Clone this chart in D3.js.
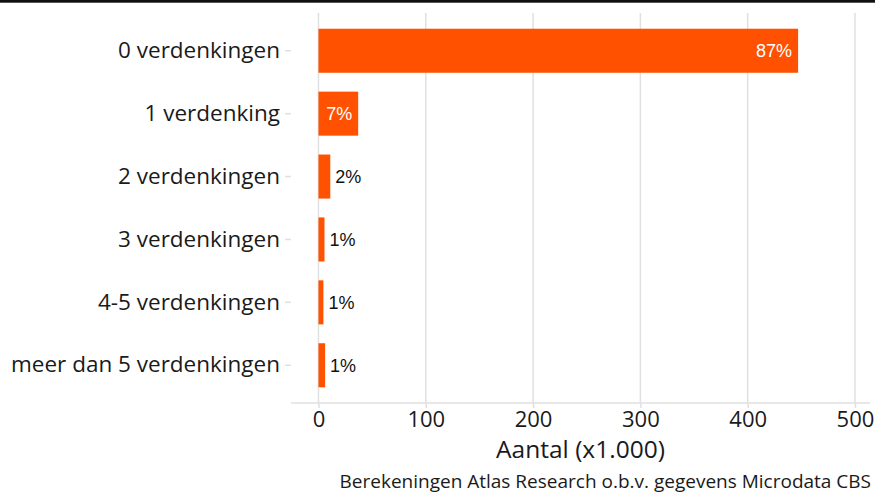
<!DOCTYPE html>
<html>
<head>
<meta charset="utf-8">
<script src="https://cdn.jsdelivr.net/npm/d3@7"></script>
<style>
  html, body { margin: 0; padding: 0; background: #fff; }
  svg { display: block; }
  .lbl { font-family: "Open Sans", sans-serif; fill: #1a1a1a; }
  .val { font-family: "Liberation Sans", Arial, sans-serif; }
</style>
</head>
<body>
<svg id="chart"></svg>
<script>
// data (aantal x1.000)
const categories = ['0 verdenkingen', '1 verdenking', '2 verdenkingen', '3 verdenkingen', '4-5 verdenkingen', 'meer dan 5 verdenkingen'];
const counts = [447, 37, 11, 5.6, 4.6, 6.2];
const percents = ['87%', '7%', '2%', '1%', '1%', '1%'];
const xTicks = [0, 100, 200, 300, 400, 500];

const width = 875, height = 494;
const panel = { left: 291, right: 870, top: 13, bottom: 403 };
const barColor = '#ff5100';
const gridColor = '#e0e0e0';

const svg = d3.select('#chart').attr('width', width).attr('height', height);

const x = d3.scaleLinear().domain([-25.6, 514]).range([panel.left, panel.right]);
const y = d3.scaleBand().domain(categories).range([panel.top, panel.bottom])
    .paddingInner(0.3).paddingOuter(0.25);

// top rule
svg.append('rect').attr('x', 0).attr('y', 0).attr('width', width).attr('height', 2.7).attr('fill', '#111');

// grid
svg.append('g').selectAll('line').data(xTicks).enter().append('line')
    .attr('x1', d => x(d)).attr('x2', d => x(d))
    .attr('y1', panel.top).attr('y2', panel.bottom)
    .attr('stroke', gridColor).attr('stroke-width', 1.5);

// bars
const data = categories.map((c, i) => ({ cat: c, n: counts[i], pct: percents[i] }));
svg.append('g').selectAll('rect').data(data).enter().append('rect')
    .attr('x', x(0)).attr('y', d => y(d.cat))
    .attr('width', d => x(d.n) - x(0)).attr('height', y.bandwidth())
    .attr('fill', barColor);

// value labels: inside when bar is wide enough
svg.append('g').selectAll('text').data(data).enter().append('text')
    .attr('class', 'val')
    .attr('x', d => d.n > 20 ? x(d.n) - 6 : x(d.n) + 5)
    .attr('y', d => y(d.cat) + y.bandwidth() / 2)
    .attr('dy', '0.36em')
    .attr('text-anchor', d => d.n > 20 ? 'end' : 'start')
    .attr('fill', d => d.n > 20 ? '#fff' : '#111')
    .style('font-size', '18px')
    .text(d => d.pct);

// x axis
const xAxis = svg.append('g').attr('transform', 'translate(0,' + panel.bottom + ')')
    .call(d3.axisBottom(x).tickValues(xTicks).tickSize(5).tickPadding(3).tickFormat(d3.format('d')));
xAxis.select('.domain').attr('stroke', gridColor).attr('stroke-width', 1.5)
    .attr('d', 'M' + panel.left + ',0H' + panel.right);
xAxis.selectAll('.tick line').attr('stroke', gridColor).attr('stroke-width', 1.5);
xAxis.selectAll('.tick text').attr('class', 'lbl').attr('fill', '#1a1a1a')
    .style('font-size', '22px').attr('dy', '0.71em');

// y axis
const yAxis = svg.append('g').attr('transform', 'translate(' + panel.left + ',0)')
    .call(d3.axisLeft(y).tickSize(6).tickPadding(5));
yAxis.select('.domain').remove();
yAxis.selectAll('.tick line').attr('stroke', gridColor).attr('stroke-width', 1.5);
yAxis.selectAll('.tick text').attr('class', 'lbl').attr('fill', '#1a1a1a')
    .style('font-size', '22.5px');

// titles
svg.append('text').attr('class', 'lbl')
    .attr('x', (panel.left + panel.right) / 2).attr('y', 458)
    .attr('text-anchor', 'middle').style('font-size', '24.5px')
    .text('Aantal (x1.000)');

svg.append('text').attr('class', 'lbl')
    .attr('x', 871).attr('y', 488)
    .attr('text-anchor', 'end').style('font-size', '19px')
    .text('Berekeningen Atlas Research o.b.v. gegevens Microdata CBS');
</script>
</body>
</html>
